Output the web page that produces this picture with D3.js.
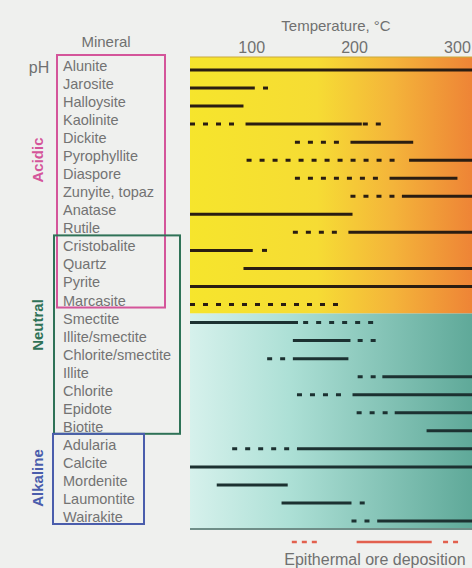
<!DOCTYPE html>
<html>
<head>
<meta charset="utf-8">
<script src="https://cdn.jsdelivr.net/npm/d3@7"></script>
<style>
  body { margin: 0; background: #eff0ee; }
  svg { display: block; font-family: "Liberation Sans", Arial, sans-serif; }
</style>
</head>
<body>
<div id="chart"></div>
<script>
var svgWidth = 472;
var svgHeight = 568;

// minerals, top to bottom
var minerals = ["Alunite", "Jarosite", "Halloysite", "Kaolinite", "Dickite", "Pyrophyllite",
  "Diaspore", "Zunyite, topaz", "Anatase", "Rutile", "Cristobalite", "Quartz", "Pyrite",
  "Marcasite", "Smectite", "Illite/smectite", "Chlorite/smectite", "Illite", "Chlorite",
  "Epidote", "Biotite", "Adularia", "Calcite", "Mordenite", "Laumontite", "Wairakite"];

// pH groups and the first / last mineral in each box
var phGroups = ["Acidic", "Neutral", "Alkaline"];
var groupFirst = ["Alunite", "Cristobalite", "Adularia"];
var groupLast = ["Marcasite", "Biotite", "Wairakite"];

// stability ranges, degrees C: [mineral, style, from, to]
var segments = [
  ["Alunite", "solid", 40, 320],
  ["Jarosite", "solid", 40, 103], ["Jarosite", "dashed", 111, 116],
  ["Halloysite", "solid", 40, 92],
  ["Kaolinite", "dashed", 40, 88], ["Kaolinite", "solid", 94, 207], ["Kaolinite", "dashed", 208, 227],
  ["Dickite", "dashed", 142, 189], ["Dickite", "solid", 196, 257],
  ["Pyrophyllite", "dashed", 95, 244], ["Pyrophyllite", "solid", 253, 320],
  ["Diaspore", "dashed", 142, 227], ["Diaspore", "solid", 234, 300],
  ["Zunyite, topaz", "dashed", 196, 242], ["Zunyite, topaz", "solid", 246, 320],
  ["Anatase", "solid", 40, 198],
  ["Rutile", "dashed", 140, 188], ["Rutile", "solid", 194, 320],
  ["Cristobalite", "solid", 40, 101], ["Cristobalite", "dashed", 110, 115],
  ["Quartz", "solid", 92, 320],
  ["Pyrite", "solid", 40, 320],
  ["Marcasite", "dashed", 40, 189],
  ["Smectite", "solid", 40, 145], ["Smectite", "dashed", 150, 222],
  ["Illite/smectite", "solid", 140, 196], ["Illite/smectite", "dashed", 203, 222],
  ["Chlorite/smectite", "dashed", 115, 134], ["Chlorite/smectite", "solid", 140, 194],
  ["Illite", "dashed", 203, 222], ["Illite", "solid", 227, 320],
  ["Chlorite", "dashed", 144, 189], ["Chlorite", "solid", 198, 320],
  ["Epidote", "dashed", 202, 233], ["Epidote", "solid", 239, 320],
  ["Biotite", "solid", 270, 320],
  ["Adularia", "dashed", 81, 139], ["Adularia", "solid", 144, 320],
  ["Calcite", "solid", 40, 320],
  ["Mordenite", "solid", 66, 135],
  ["Laumontite", "solid", 129, 197], ["Laumontite", "dashed", 205, 210],
  ["Wairakite", "dashed", 197, 217], ["Wairakite", "solid", 222, 320]
];

// epithermal ore deposition range
var oreSegments = [["dashed", 139, 168], ["solid", 202, 275], ["dashed", 286, 302]];

var tickValues = [100, 200, 300];

// layout
var plotLeft = 190, plotRight = 472, plotTop = 57, plotBottom = 529;
var boxLeft = [57, 54, 53], boxRight = [165, 180, 144];
var groupColor = ["#d4559a", "#2f7257", "#4a5dac"];
var groupLabelY = [160, 325, 478];

var svg = d3.select("#chart")
  .append("svg")
  .attr("width", svgWidth)
  .attr("height", svgHeight);

var xScale = d3.scaleLinear()
  .domain([40, 320])
  .range([plotLeft, plotLeft + 280 * 1.0286]);

var yScale = d3.scalePoint()
  .domain(minerals)
  .range([70, 521]);

// background bands
var defs = svg.append("defs");
var warm = defs.append("linearGradient").attr("id", "warm");
warm.append("stop").attr("offset", "0%").attr("stop-color", "#f6e52c");
warm.append("stop").attr("offset", "45%").attr("stop-color", "#f6dc34");
warm.append("stop").attr("offset", "72%").attr("stop-color", "#f4b43a");
warm.append("stop").attr("offset", "100%").attr("stop-color", "#ee8436");

var cool = defs.append("linearGradient").attr("id", "cool");
cool.append("stop").attr("offset", "0%").attr("stop-color", "#d6f1ec");
cool.append("stop").attr("offset", "35%").attr("stop-color", "#ade0d6");
cool.append("stop").attr("offset", "100%").attr("stop-color", "#5fa999");

defs.append("clipPath").attr("id", "plotClip")
  .append("rect")
  .attr("x", plotLeft).attr("y", plotTop)
  .attr("width", plotRight - plotLeft).attr("height", plotBottom - plotTop);

var split = (yScale("Marcasite") + yScale("Smectite")) / 2;

svg.append("rect")
  .attr("x", plotLeft).attr("y", plotTop)
  .attr("width", plotRight - plotLeft).attr("height", split - plotTop)
  .attr("fill", "url(#warm)");

svg.append("rect")
  .attr("x", plotLeft).attr("y", split)
  .attr("width", plotRight - plotLeft).attr("height", plotBottom - split)
  .attr("fill", "url(#cool)");

svg.append("line")
  .attr("x1", plotLeft).attr("x2", plotRight)
  .attr("y1", plotTop).attr("y2", plotTop)
  .attr("stroke", "#c9a93a").attr("stroke-width", 1);

svg.append("line")
  .attr("x1", plotLeft).attr("x2", plotRight)
  .attr("y1", plotBottom).attr("y2", plotBottom)
  .attr("stroke", "#6f8e88").attr("stroke-width", 2);

// range lines
svg.append("g")
  .attr("clip-path", "url(#plotClip)")
  .selectAll("line")
  .data(segments)
  .enter()
  .append("line")
  .attr("x1", d => xScale(d[2]))
  .attr("x2", d => xScale(d[3]))
  .attr("y1", d => yScale(d[0]))
  .attr("y2", d => yScale(d[0]))
  .attr("stroke", d => minerals.indexOf(d[0]) > 13 ? "#1c3131" : "#2a1d12")
  .attr("stroke-width", 3)
  .attr("stroke-dasharray", d => d[1] === "dashed" ? "5,8" : null);

// ore deposition
var oreY = 542;
svg.append("g")
  .selectAll("line")
  .data(oreSegments)
  .enter()
  .append("line")
  .attr("x1", d => xScale(d[1]))
  .attr("x2", d => xScale(d[2]))
  .attr("y1", oreY)
  .attr("y2", oreY)
  .attr("stroke", "#e2604e")
  .attr("stroke-width", 2.5)
  .attr("stroke-dasharray", d => d[0] === "dashed" ? "5,5" : null);

svg.append("text")
  .attr("x", 375).attr("y", 565)
  .attr("text-anchor", "middle")
  .attr("font-size", "16px")
  .attr("fill", "#707070")
  .text("Epithermal ore deposition");

// temperature axis
svg.append("g")
  .selectAll("text")
  .data(tickValues)
  .enter()
  .append("text")
  .attr("x", d => xScale(d))
  .attr("y", 53)
  .attr("text-anchor", "middle")
  .attr("font-size", "16px")
  .attr("fill", "#707070")
  .text(d => d);

svg.append("text")
  .attr("x", 336).attr("y", 31)
  .attr("text-anchor", "middle")
  .attr("font-size", "15px")
  .attr("fill", "#707070")
  .text("Temperature, °C");

svg.append("text")
  .attr("x", 106).attr("y", 47)
  .attr("text-anchor", "middle")
  .attr("font-size", "15px")
  .attr("fill", "#707070")
  .text("Mineral");

svg.append("text")
  .attr("x", 39).attr("y", 73)
  .attr("text-anchor", "middle")
  .attr("font-size", "16px")
  .attr("fill", "#707070")
  .text("pH");

// mineral names
svg.append("g")
  .selectAll("text")
  .data(minerals)
  .enter()
  .append("text")
  .attr("x", 63)
  .attr("y", d => yScale(d) + 1)
  .attr("font-size", "14.5px")
  .attr("fill", "#737373")
  .text(d => d);

// pH boxes
svg.append("g")
  .selectAll("rect")
  .data(phGroups)
  .enter()
  .append("rect")
  .attr("x", (d, i) => boxLeft[i])
  .attr("y", (d, i) => yScale(groupFirst[i]) - 15)
  .attr("width", (d, i) => boxRight[i] - boxLeft[i])
  .attr("height", (d, i) => yScale(groupLast[i]) - yScale(groupFirst[i]) + 18)
  .attr("fill", "none")
  .attr("stroke", (d, i) => groupColor[i])
  .attr("stroke-width", 2);

svg.append("g")
  .selectAll("text")
  .data(phGroups)
  .enter()
  .append("text")
  .attr("transform", (d, i) => `translate(37, ${groupLabelY[i]}) rotate(-90)`)
  .attr("text-anchor", "middle")
  .attr("dominant-baseline", "central")
  .attr("font-size", "15px")
  .attr("font-weight", "bold")
  .attr("fill", (d, i) => groupColor[i])
  .text(d => d);
</script>
</body>
</html>
